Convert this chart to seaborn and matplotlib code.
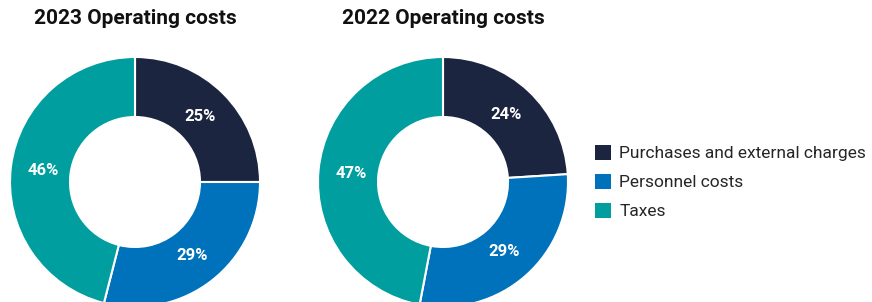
import matplotlib
matplotlib.use("Agg")
import numpy as np
import matplotlib.pyplot as plt
import seaborn as sns
from matplotlib.patches import Patch

categories = ["Purchases and external charges", "Personnel costs", "Taxes"]
years = ["2023", "2022"]
shares_2023 = [25, 29, 46]
shares_2022 = [24, 29, 47]
colors = ["#1b2540", "#0071bb", "#009e9e"]

sns.set_style("white")
plt.rcParams["font.family"] = ["Roboto", "DejaVu Sans"]

fig = plt.figure(figsize=(8.72, 3.02), dpi=100)
W, H = 872, 302

def donut(left_px, shares, year):
    ax = fig.add_axes([left_px / W, -5 / H, 250 / W, 250 / H])
    wedges, _ = ax.pie(shares, colors=colors, startangle=90, counterclock=False,
                       radius=1, wedgeprops=dict(width=0.48, edgecolor="white", linewidth=1.5))
    for w, v in zip(wedges, shares):
        ang = np.deg2rad((w.theta1 + w.theta2) / 2)
        ax.text(0.74 * np.cos(ang), 0.74 * np.sin(ang), f"{v}%", color="white",
                ha="center", va="center", fontsize=12, fontweight="bold")
    ax.set_xlim(-1, 1)
    ax.set_ylim(-1, 1)
    ax.set_aspect("equal")
    ax.axis("off")
    fig.text((left_px + 125) / W, 1 - 19 / H, f"{year} Operating costs",
             ha="center", va="center", fontsize=15, fontweight="bold", color="#111111")

donut(10, shares_2023, years[0])
donut(318, shares_2022, years[1])

handles = [Patch(facecolor=c, edgecolor="none") for c in colors]
fig.legend(handles, categories, loc="center left", bbox_to_anchor=(595 / W, 1 - 182 / H),
           frameon=False, fontsize=12.5, handlelength=0.95, handleheight=0.95,
           handletextpad=0.45, labelspacing=0.72, borderaxespad=0, borderpad=0)

fig.savefig("out.png", dpi=100)
